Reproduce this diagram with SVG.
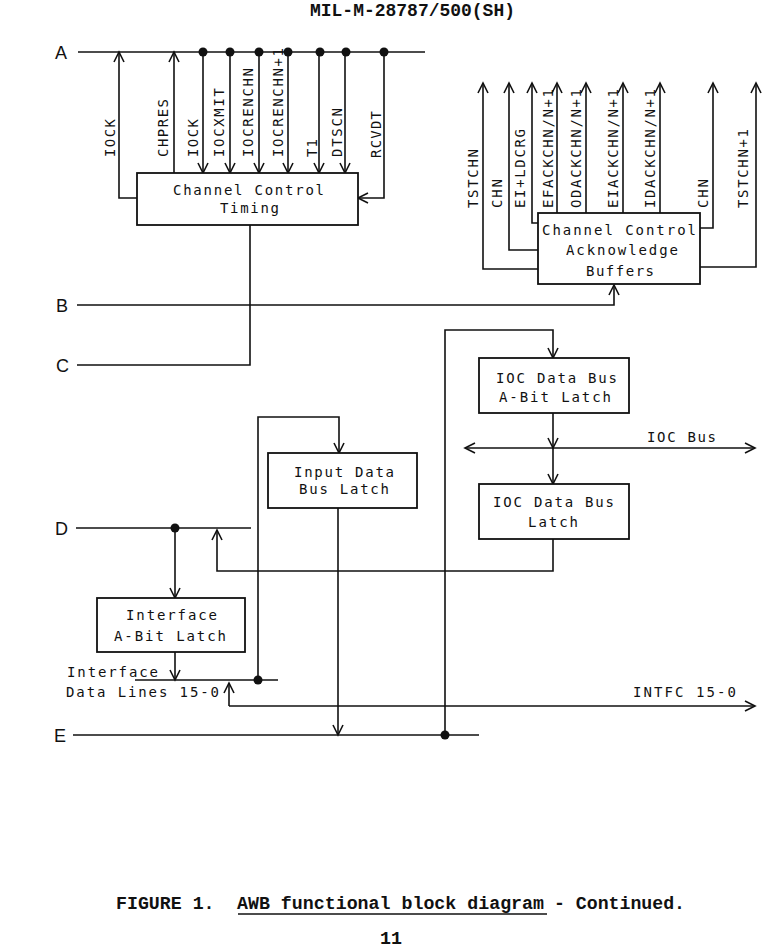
<svg xmlns="http://www.w3.org/2000/svg" width="763" height="948" viewBox="0 0 763 948">
<style>
.ln{fill:none;stroke:#111;stroke-width:1.6}
.bx{fill:#fff;stroke:#111;stroke-width:1.8}
.t{font-family:"DejaVu Sans Mono","Liberation Mono",monospace;font-size:14px;fill:#111}
.lt{font-family:"Liberation Sans","DejaVu Sans",sans-serif;font-size:18px;fill:#111}
.hd{font-family:"Liberation Mono","Courier New",monospace;font-size:18.25px;font-weight:bold;fill:#111}
.dot{fill:#111}
</style>
<defs>
<marker id="ar" markerUnits="userSpaceOnUse" markerWidth="14" markerHeight="14" viewBox="-12 -7 14 14" refX="0" refY="0" orient="auto">
<path d="M-10,-5 L0,0 L-10,5" fill="none" stroke="#111" stroke-width="1.6"/>
</marker>
</defs>

<text class="hd" x="310" y="16" font-size="17" textLength="205" lengthAdjust="spacingAndGlyphs">MIL-M-28787/500(SH)</text>

<g id="bus-labels">
<text class="lt" x="55" y="59">A</text>
<text class="lt" x="56" y="312">B</text>
<text class="lt" x="56" y="372">C</text>
<text class="lt" x="55" y="535">D</text>
<text class="lt" x="54" y="742">E</text>
</g>

<g id="connectors">
<path class="ln" d="M78,52 H425"/>
<path class="ln" d="M137,198 H119 V52" marker-end="url(#ar)"/>
<path class="ln" d="M174,173 V52" marker-end="url(#ar)"/>
<path class="ln" d="M203,52 V173" marker-end="url(#ar)"/>
<path class="ln" d="M230,52 V173" marker-end="url(#ar)"/>
<path class="ln" d="M259,52 V173" marker-end="url(#ar)"/>
<path class="ln" d="M288,52 V173" marker-end="url(#ar)"/>
<path class="ln" d="M319,52 V173" marker-end="url(#ar)"/>
<path class="ln" d="M345,52 V173" marker-end="url(#ar)"/>
<path class="ln" d="M384,52 V198 H358" marker-end="url(#ar)"/>
<path class="ln" d="M250,225 V365 H77"/>
<path class="ln" d="M77,305 H614 V285" marker-end="url(#ar)"/>
<path class="ln" d="M538,269 H483 V83" marker-end="url(#ar)"/>
<path class="ln" d="M538,250 H509 V83" marker-end="url(#ar)"/>
<path class="ln" d="M538,223 H532 V83" marker-end="url(#ar)"/>
<path class="ln" d="M557,213 V83" marker-end="url(#ar)"/>
<path class="ln" d="M586,213 V83" marker-end="url(#ar)"/>
<path class="ln" d="M623,213 V83" marker-end="url(#ar)"/>
<path class="ln" d="M660,213 V83" marker-end="url(#ar)"/>
<path class="ln" d="M700,228 H713 V83" marker-end="url(#ar)"/>
<path class="ln" d="M700,267 H756 V83" marker-end="url(#ar)"/>
<path class="ln" d="M445,735 V330 H553 V358" marker-end="url(#ar)"/>
<path class="ln" d="M553,413 V448" marker-end="url(#ar)"/>
<path class="ln" d="M553,448 V484" marker-end="url(#ar)"/>
<path class="ln" d="M610,448 H755" marker-end="url(#ar)"/>
<path class="ln" d="M610,448 H465" marker-end="url(#ar)"/>
<path class="ln" d="M553,539 V571 H217 V530" marker-end="url(#ar)"/>
<path class="ln" d="M76,528 H251"/>
<path class="ln" d="M175,528 V598" marker-end="url(#ar)"/>
<path class="ln" d="M175,652 V680" marker-end="url(#ar)"/>
<path class="ln" d="M135,680 H278"/>
<path class="ln" d="M258,680 V417 H339 V453" marker-end="url(#ar)"/>
<path class="ln" d="M338,508 V735" marker-end="url(#ar)"/>
<path class="ln" d="M229,706 V683" marker-end="url(#ar)"/>
<path class="ln" d="M229,706 H755" marker-end="url(#ar)"/>
<path class="ln" d="M73,735 H479"/>
<circle class="dot" cx="203" cy="52" r="4.5"/>
<circle class="dot" cx="230" cy="52" r="4.5"/>
<circle class="dot" cx="259" cy="52" r="4.5"/>
<circle class="dot" cx="288" cy="52" r="4.5"/>
<circle class="dot" cx="320" cy="52" r="4.5"/>
<circle class="dot" cx="346" cy="52" r="4.5"/>
<circle class="dot" cx="384" cy="52" r="4.5"/>
<circle class="dot" cx="175" cy="528" r="4.5"/>
<circle class="dot" cx="258" cy="680" r="4.5"/>
<circle class="dot" cx="445" cy="735" r="4.5"/>
</g>

<g id="signal-labels">
<text class="t" x="115" y="157" transform="rotate(-90 115 157)" textLength="38">IOCK</text>
<text class="t" x="168" y="157" transform="rotate(-90 168 157)" textLength="58">CHPRES</text>
<text class="t" x="198" y="157" transform="rotate(-90 198 157)" textLength="38">IOCK</text>
<text class="t" x="224" y="157" transform="rotate(-90 224 157)" textLength="69">IOCXMIT</text>
<text class="t" x="253" y="157" transform="rotate(-90 253 157)" textLength="89">IOCRENCHN</text>
<text class="t" x="283" y="157" transform="rotate(-90 283 157)" textLength="109">IOCRENCHN+1</text>
<text class="t" x="317" y="157" transform="rotate(-90 317 157)" textLength="18">T1</text>
<text class="t" x="342" y="157" transform="rotate(-90 342 157)" textLength="49">DTSCN</text>
<text class="t" x="381" y="158" transform="rotate(-90 381 158)" textLength="47">RCVDT</text>

<text class="t" x="478" y="208" transform="rotate(-90 478 208)" textLength="59">TSTCHN</text>
<text class="t" x="502" y="208" transform="rotate(-90 502 208)" textLength="29">CHN</text>
<text class="t" x="525" y="208" transform="rotate(-90 525 208)" textLength="79">EI+LDCRG</text>
<text class="t" x="553" y="208" transform="rotate(-90 553 208)" textLength="119">EFACKCHN/N+1</text>
<text class="t" x="581" y="208" transform="rotate(-90 581 208)" textLength="119">ODACKCHN/N+1</text>
<text class="t" x="618" y="208" transform="rotate(-90 618 208)" textLength="119">EIACKCHN/N+1</text>
<text class="t" x="655" y="208" transform="rotate(-90 655 208)" textLength="119">IDACKCHN/N+1</text>
<text class="t" x="708" y="208" transform="rotate(-90 708 208)" textLength="29">CHN</text>
<text class="t" x="748" y="208" transform="rotate(-90 748 208)" textLength="79">TSTCHN+1</text>

<text class="t" x="647" y="442" textLength="69">IOC Bus</text>
<text class="t" x="67" y="677" textLength="91">Interface</text>
<text class="t" x="66" y="697" textLength="153">Data Lines 15-0</text>
<text class="t" x="633" y="697" textLength="103">INTFC 15-0</text>
</g>

<g id="timing">
<rect class="bx" x="137" y="173" width="221" height="52"/>
<text class="t" x="173" y="195" textLength="151">Channel Control</text>
<text class="t" x="220" y="213" textLength="59">Timing</text>
</g>

<g id="ack-buffers">
<rect class="bx" x="538" y="213" width="162" height="71"/>
<text class="t" x="542" y="235" textLength="154">Channel Control</text>
<text class="t" x="566" y="255" textLength="112">Acknowledge</text>
<text class="t" x="586" y="276" textLength="68">Buffers</text>
</g>

<g id="ioc-abit-latch">
<rect class="bx" x="479" y="358" width="150" height="55"/>
<text class="t" x="496" y="383" textLength="121">IOC Data Bus</text>
<text class="t" x="499" y="402" textLength="112">A-Bit Latch</text>
</g>

<g id="ioc-latch">
<rect class="bx" x="479" y="484" width="150" height="55"/>
<text class="t" x="493" y="507" textLength="121">IOC Data Bus</text>
<text class="t" x="528" y="527" textLength="50">Latch</text>
</g>

<g id="input-latch">
<rect class="bx" x="268" y="453" width="149" height="55"/>
<text class="t" x="294" y="477" textLength="100">Input Data</text>
<text class="t" x="299" y="494" textLength="90">Bus Latch</text>
</g>

<g id="interface-latch">
<rect class="bx" x="97" y="598" width="148" height="54"/>
<text class="t" x="126" y="620" textLength="91">Interface</text>
<text class="t" x="114" y="641" textLength="112">A-Bit Latch</text>
</g>

<g id="caption">
<text class="hd" x="116" y="909">FIGURE 1.</text>
<text class="hd" x="237" y="909" textLength="307" lengthAdjust="spacingAndGlyphs">AWB functional block diagram</text>
<text class="hd" x="554" y="909" textLength="131" lengthAdjust="spacingAndGlyphs">- Continued.</text>
<path class="ln" d="M238,914 H547" stroke-width="1.4"/>
<text class="hd" x="380" y="944" font-size="16" textLength="22" lengthAdjust="spacingAndGlyphs">11</text>
</g>
</svg>
